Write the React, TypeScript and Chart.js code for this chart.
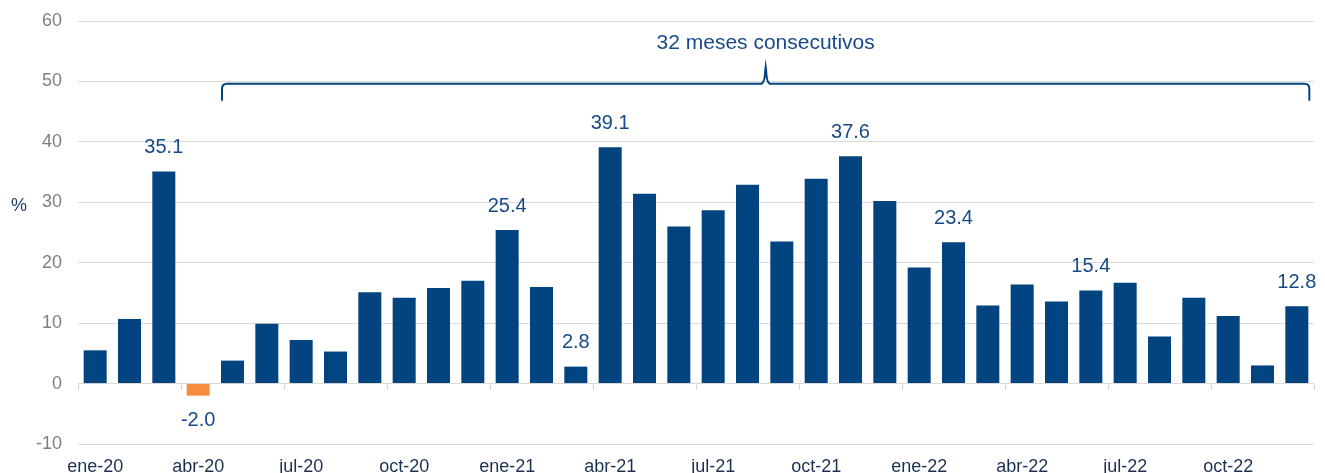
import React, { useEffect, useRef } from "react";
import { Chart, registerables } from "chart.js";

Chart.register(...registerables);

const categories = [
  "ene-20", "feb-20", "mar-20", "abr-20", "may-20", "jun-20", "jul-20", "ago-20", "sep-20", "oct-20", "nov-20", "dic-20",
  "ene-21", "feb-21", "mar-21", "abr-21", "may-21", "jun-21", "jul-21", "ago-21", "sep-21", "oct-21", "nov-21", "dic-21",
  "ene-22", "feb-22", "mar-22", "abr-22", "may-22", "jun-22", "jul-22", "ago-22", "sep-22", "oct-22", "nov-22", "dic-22",
];

const values = [
  5.5, 10.7, 35.1, -2.0, 3.8, 9.9, 7.2, 5.3, 15.1, 14.2, 15.8, 17.0,
  25.4, 16.0, 2.8, 39.1, 31.4, 26.0, 28.7, 32.9, 23.5, 33.9, 37.6, 30.2,
  19.2, 23.4, 12.9, 16.4, 13.6, 15.4, 16.7, 7.8, 14.2, 11.2, 3.0, 12.8,
];

const labeledIndices = [2, 3, 12, 14, 15, 22, 25, 29, 35];

const yTicks = [60, 50, 40, 30, 20, 10, 0, -10];

const braceText = "32 meses consecutivos";
const braceStartIndex = 4;
const braceEndIndex = 35;
const braceLineValue = 49.6;
const braceEndValue = 46.8;
const bracePeakValue = 52.4;
const braceTextValue = 56.3;

const BLUE = "#02447f";
const ORANGE = "#f58b3c";
const LABEL_BLUE = "#174a87";
const FONT = "'Liberation Sans', Arial, sans-serif";

const annotationsPlugin = {
  id: "annotations",
  afterDatasetsDraw(chart: any) {
    const ctx = chart.ctx;
    const x = chart.scales.x;
    const y = chart.scales.y;
    const meta = chart.getDatasetMeta(0);
    const cat = x.getPixelForValue(1) - x.getPixelForValue(0);

    // zero axis tick marks
    ctx.save();
    ctx.strokeStyle = "#d0d0d0";
    ctx.lineWidth = 1;
    const y0 = Math.round(y.getPixelForValue(0)) + 0.5;
    for (let k = 0; k <= categories.length; k += 3) {
      const px = Math.round(x.getPixelForValue(k) - cat / 2) + 0.5;
      ctx.beginPath();
      ctx.moveTo(px, y0);
      ctx.lineTo(px, y0 + 5);
      ctx.stroke();
    }
    ctx.restore();

    // data labels
    ctx.save();
    ctx.font = `20px ${FONT}`;
    ctx.fillStyle = LABEL_BLUE;
    ctx.textAlign = "center";
    ctx.textBaseline = "middle";
    labeledIndices.forEach((i) => {
      const bar = meta.data[i];
      const v = values[i];
      const ty = v >= 0 ? bar.y - 24 : bar.y + 25;
      ctx.fillText(v.toFixed(1), bar.x, ty);
    });
    ctx.restore();

    // brace
    const bw = meta.data[0].width;
    const L = meta.data[braceStartIndex].x - bw / 2 + 1;
    const R = meta.data[braceEndIndex].x + bw / 2 + 1;
    const M = (L + R) / 2;
    const yl = y.getPixelForValue(braceLineValue);
    const ye = y.getPixelForValue(braceEndValue);
    const yp = y.getPixelForValue(bracePeakValue);
    ctx.save();
    ctx.strokeStyle = BLUE;
    ctx.lineWidth = 2;
    ctx.beginPath();
    ctx.moveTo(L, ye);
    ctx.lineTo(L, yl + 5);
    ctx.quadraticCurveTo(L, yl, L + 5, yl);
    ctx.lineTo(M - 5, yl);
    ctx.quadraticCurveTo(M - 1, yl, M - 0.5, yp + 4);
    ctx.lineTo(M, yp);
    ctx.lineTo(M + 0.5, yp + 4);
    ctx.quadraticCurveTo(M + 1, yl, M + 5, yl);
    ctx.lineTo(R - 5, yl);
    ctx.quadraticCurveTo(R, yl, R, yl + 5);
    ctx.lineTo(R, ye);
    ctx.stroke();
    ctx.restore();

    ctx.save();
    ctx.font = `21px ${FONT}`;
    ctx.fillStyle = LABEL_BLUE;
    ctx.textAlign = "center";
    ctx.textBaseline = "middle";
    ctx.fillText(braceText, M, y.getPixelForValue(braceTextValue));
    ctx.restore();

    // % label
    ctx.save();
    ctx.font = `18px ${FONT}`;
    ctx.fillStyle = "#1f3d6d";
    ctx.textAlign = "center";
    ctx.textBaseline = "middle";
    ctx.fillText("%", 19, y.getPixelForValue(29.3));
    ctx.restore();
  },
};

export default function App() {
  const ref = useRef<HTMLCanvasElement | null>(null);

  useEffect(() => {
    const prevMargin = document.body.style.margin;
    document.body.style.margin = "0";
    const canvas = ref.current;
    if (!canvas) return;
    const chart = new Chart(canvas, {
      type: "bar",
      data: {
        labels: categories,
        datasets: [
          {
            data: values,
            backgroundColor: values.map((v) => (v < 0 ? ORANGE : BLUE)),
            borderWidth: 0,
            barPercentage: 0.67,
            categoryPercentage: 1,
          },
        ],
      },
      options: {
        responsive: false,
        animation: false,
        maintainAspectRatio: false,
        layout: { padding: { top: 21, right: 11, bottom: 0, left: 0 } },
        plugins: {
          legend: { display: false },
          tooltip: { enabled: false },
        },
        scales: {
          x: {
            grid: { display: false, drawTicks: false },
            border: { display: false },
            ticks: {
              autoSkip: false,
              maxRotation: 0,
              minRotation: 0,
              padding: 12,
              color: "#1c3152",
              font: { family: FONT, size: 18 },
              callback: (_v: any, i: number) => (i % 3 === 0 ? categories[i] : ""),
            },
            afterFit: (s: any) => {
              s.height = 38;
              s.paddingLeft = 0;
              s.paddingRight = 0;
            },
          },
          y: {
            min: -10,
            max: 60,
            afterBuildTicks: (s: any) => {
              s.ticks = yTicks.map((v) => ({ value: v }));
            },
            grid: { color: "#d9d9d9", lineWidth: 1, drawTicks: false },
            border: { display: false },
            ticks: {
              padding: 16,
              color: "#7f7f7f",
              font: { family: FONT, size: 18 },
              callback: (v: any) => String(v),
            },
            afterFit: (s: any) => {
              s.width = 78;
              s.paddingTop = 0;
              s.paddingBottom = 0;
            },
          },
        },
      },
      plugins: [annotationsPlugin],
    });
    return () => {
      chart.destroy();
      document.body.style.margin = prevMargin;
    };
  }, []);

  return (
    <div style={{ position: "absolute", left: 0, top: 0, width: 1325, height: 482 }}>
      <canvas ref={ref} width={1325} height={482} style={{ display: "block" }} />
    </div>
  );
}
